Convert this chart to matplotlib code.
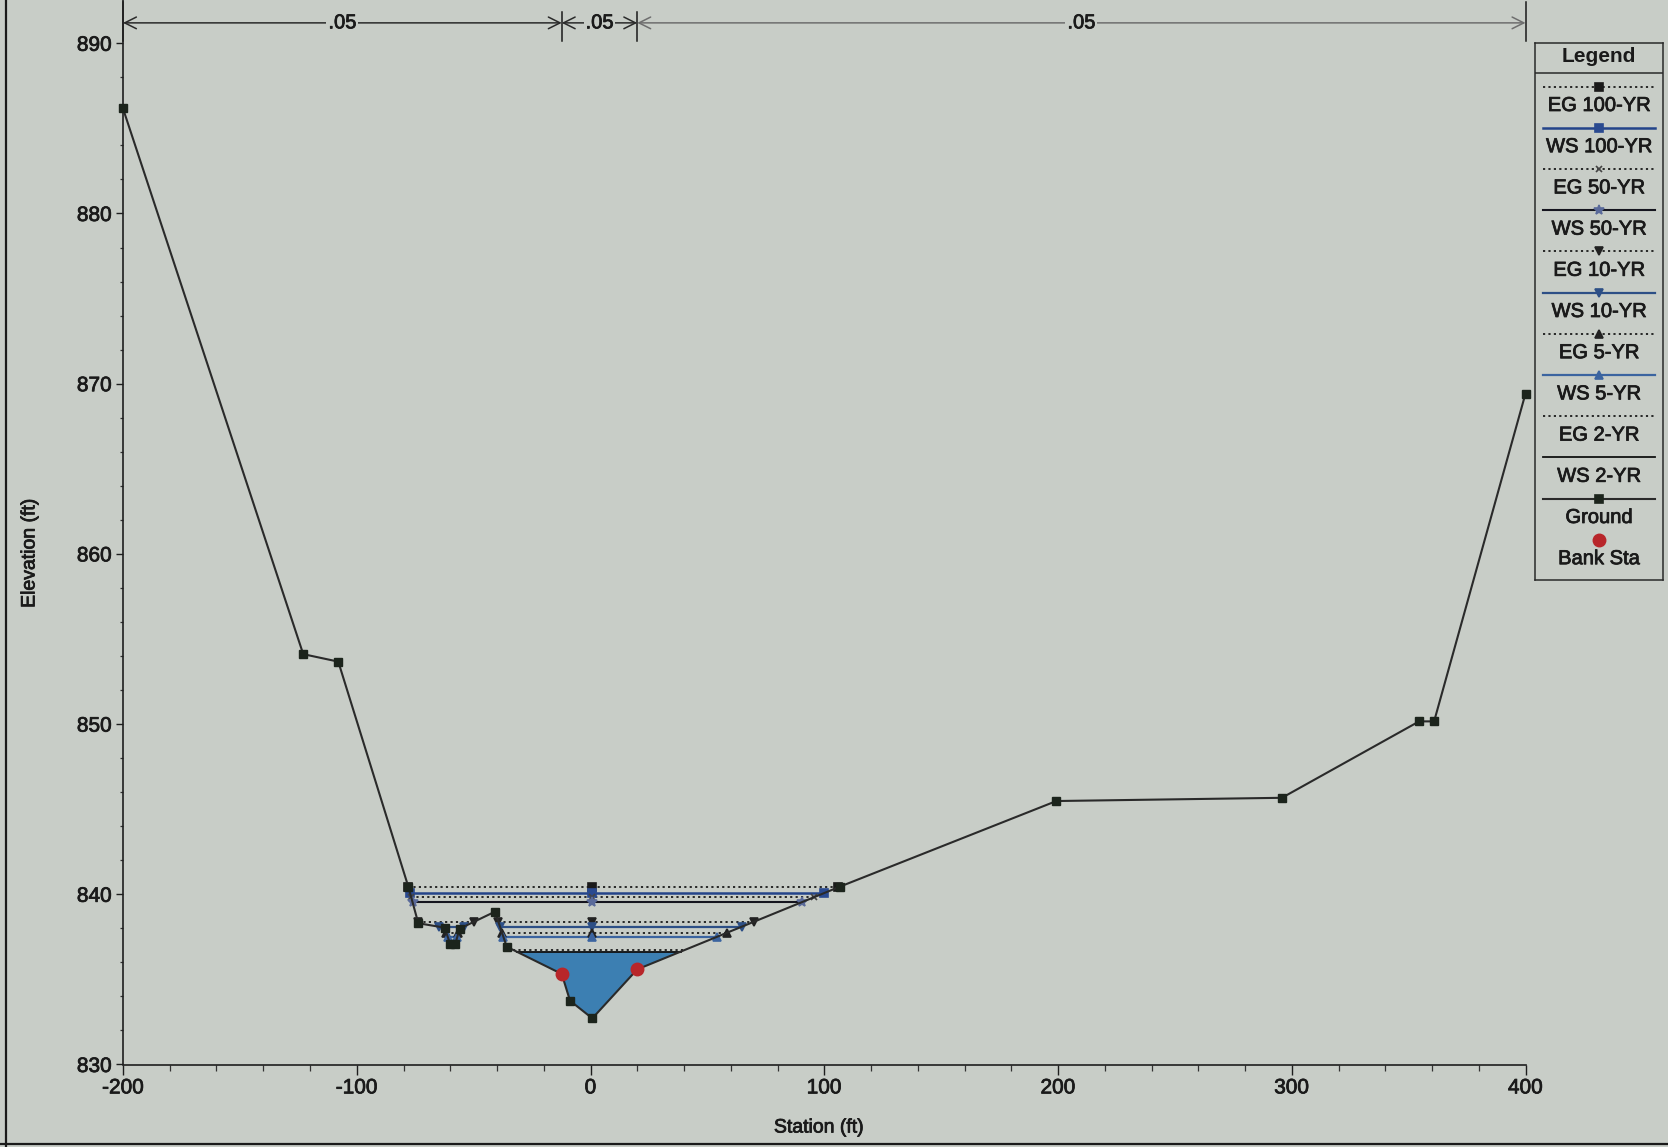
import numpy as np
import matplotlib
matplotlib.use("Agg")
import matplotlib.pyplot as plt
import matplotlib.patheffects as pe
from matplotlib.lines import Line2D
from matplotlib.patches import Polygon

plt.rcParams['font.family'] = ['Liberation Sans', 'DejaVu Sans']
plt.rcParams['axes.unicode_minus'] = False

# ---- cross-section geometry ----
ground_sta = [-200.0, -122.9, -107.9, -77.95, -73.67, -62.4, -60.1, -57.8, -56.0,
              -40.85, -35.85, -12.3, -8.77, 0.77, 20.0, 106.7, 199.3, 295.8,
              354.5, 360.9, 400.0]
ground_elev = [886.17, 854.11, 853.67, 840.45, 838.30, 838.04, 837.10, 837.10, 837.98,
               838.98, 836.92, 835.32, 833.75, 832.71, 835.59, 840.45, 845.48, 845.67,
               850.16, 850.16, 869.42]
bank_sta = [-12.3, 20.0]
bank_elev = [835.32, 835.59]

# Manning's n regions
n_breaks = [-200.0, -12.3, 20.0, 400.0]
n_values = [".05", ".05", ".05"]

# Computed profiles
profile_names = ["EG 100-YR", "WS 100-YR", "EG 50-YR", "WS 50-YR", "EG 10-YR",
                 "WS 10-YR", "EG 5-YR", "WS 5-YR", "EG 2-YR", "WS 2-YR"]
profile_elev = [840.41, 840.06, 839.82, 839.53, 838.39, 838.10, 837.74, 837.51,
                836.73, 836.63]

BG = '#c8cdc7'
TXT = '#1a1a1a'
DOT = (0, (1.2, 1.8))
styles = {
    "EG 100-YR": dict(color='#1a1a1a', ls=DOT, lw=1.3, marker='s', mc='#1a1a1a', ms=5.5),
    "WS 100-YR": dict(color='#24448a', ls='-', lw=1.8, marker='s', mc='#2a4a90', ms=5.5),
    "EG 50-YR": dict(color='#1a1a1a', ls=DOT, lw=1.3, marker='x', mc='#444444', ms=5),
    "WS 50-YR": dict(color='#15151f', ls='-', lw=1.5, marker='*', mc='#5a6a9a', ms=7),
    "EG 10-YR": dict(color='#1a1a1a', ls=DOT, lw=1.3, marker='v', mc='#222222', ms=5.5),
    "WS 10-YR": dict(color='#2d4f86', ls='-', lw=1.6, marker='v', mc='#2d4f86', ms=5.5),
    "EG 5-YR": dict(color='#1a1a1a', ls=DOT, lw=1.3, marker='^', mc='#222222', ms=5.5),
    "WS 5-YR": dict(color='#3b64a0', ls='-', lw=1.6, marker='^', mc='#3b64a0', ms=5.5),
    "EG 2-YR": dict(color='#1a1a1a', ls=DOT, lw=1.3, marker=None, mc=None, ms=0),
    "WS 2-YR": dict(color='#111111', ls='-', lw=1.3, marker=None, mc=None, ms=0),
}
ground_style = dict(color='#2a2a2a', ls='-', lw=1.5, marker='s', mc='#1c241c', ms=6)
bank_style = dict(marker='o', mc='#b8262a', ms=9)
FILL = '#3c7fb2'

# slightly heavier strokes for all lettering
HEAVY = [pe.withStroke(linewidth=0.55, foreground=TXT)]


def wet_intervals(z, xs, ys):
    """Return (start, end) stations where the ground lies below elevation z."""
    out = []
    start = None
    for i in range(len(xs) - 1):
        x0, y0, x1, y1 = xs[i], ys[i], xs[i + 1], ys[i + 1]
        if y0 >= z > y1:
            start = x0 + (y0 - z) / (y0 - y1) * (x1 - x0)
        elif y0 < z <= y1 and start is not None:
            end = x0 + (z - y0) / (y1 - y0) * (x1 - x0)
            out.append((start, end))
            start = None
    return out


W, H = 1668, 1147
fig = plt.figure(figsize=(W / 100, H / 100), dpi=100, facecolor=BG)

x_left, x_right = 123, 1525.5
y_axis = 1064.5
ymax = 830 + y_axis / 17.02
ax = fig.add_axes([x_left / W, 1 - y_axis / H, (x_right - x_left) / W, y_axis / H])
ax.set_facecolor(BG)
ax.set_xlim(-200, 400)
ax.set_ylim(830, ymax)

thalweg = ground_sta[int(np.argmin(ground_elev))]

# water area of the lowest profile
z2 = profile_elev[profile_names.index("WS 2-YR")]
for a, b in wet_intervals(z2, ground_sta, ground_elev):
    pts = [(a, z2)] + [(x, y) for x, y in zip(ground_sta, ground_elev) if a < x < b] + [(b, z2)]
    ax.add_patch(Polygon(pts, closed=True, facecolor=FILL, edgecolor='none', zorder=1))

# EG / WS lines
for name, z in zip(profile_names, profile_elev):
    st = styles[name]
    for a, b in wet_intervals(z, ground_sta, ground_elev):
        ax.plot([a, b], [z, z], color=st['color'], ls=st['ls'], lw=st['lw'], zorder=3)
        if st['marker']:
            mx = [a, b] + ([thalweg] if a < thalweg < b else [])
            ax.plot(mx, [z] * len(mx), ls='none', marker=st['marker'], ms=st['ms'],
                    mfc=st['mc'], mec=st['mc'], mew=1.2, zorder=4)

# ground
ax.plot(ground_sta, ground_elev, color=ground_style['color'], lw=ground_style['lw'],
        marker='s', ms=ground_style['ms'], mfc=ground_style['mc'], mec=ground_style['mc'],
        zorder=5, clip_on=False)
ax.plot(bank_sta, bank_elev, ls='none', marker='o', ms=bank_style['ms'],
        mfc=bank_style['mc'], mec=bank_style['mc'], zorder=6)

# Manning's n annotation
y_n = 891.2
seg_colors = ['#2a2a2a', '#2a2a2a', '#6e6e6e']
for i, nv in enumerate(n_values):
    ax.annotate('', xy=(n_breaks[i], y_n), xytext=(n_breaks[i + 1], y_n),
                arrowprops=dict(arrowstyle='<->, head_length=0.7, head_width=0.35',
                                color=seg_colors[i], lw=1.1, shrinkA=0, shrinkB=0,
                                mutation_scale=12),
                annotation_clip=False)
    ax.text((n_breaks[i] + n_breaks[i + 1]) / 2, y_n, nv, ha='center', va='center',
            fontsize=14.5, color=TXT, zorder=7, path_effects=HEAVY,
            bbox=dict(facecolor=BG, edgecolor='none', pad=1.5))
for i, xb in enumerate(n_breaks):
    top = 892.4 if i in (0, len(n_breaks) - 1) else 891.85
    ax.plot([xb, xb], [890.15, top], color='#1a1a1a', lw=1.1, clip_on=False)

# axes styling
for s in ('top', 'right'):
    ax.spines[s].set_visible(False)
for s in ('left', 'bottom'):
    ax.spines[s].set_color('#1e1e1e')
    ax.spines[s].set_linewidth(1.2)
ax.set_xticks(np.arange(-200, 401, 100))
ax.set_xticks(np.arange(-200, 401, 20), minor=True)
ax.set_yticks(np.arange(830, 891, 10))
ax.set_yticks(np.arange(830, 891, 2), minor=True)
ax.tick_params(axis='both', which='major', labelsize=15, labelcolor=TXT,
               color='#1e1e1e', width=1.0)
ax.tick_params(axis='x', which='major', length=7, pad=3)
ax.tick_params(axis='x', which='minor', length=4, width=0.9, color='#333333')
ax.tick_params(axis='y', which='major', length=5, pad=3)
ax.tick_params(axis='y', which='minor', length=2.5, width=0.9, color='#333333')
for lab in ax.get_xticklabels() + ax.get_yticklabels():
    lab.set_path_effects(HEAVY)

fig.text(819 / W, 1 - 1128 / H, 'Station (ft)', ha='center', va='center',
         fontsize=14, color=TXT, path_effects=HEAVY)
fig.text(30 / W, 1 - 553 / H, 'Elevation (ft)', ha='center', va='center',
         rotation=90, fontsize=14, color=TXT, path_effects=HEAVY)

# legend panel
lx0, ly0, lx1, ly1 = 1535, 43.3, 1663, 580
lax = fig.add_axes([lx0 / W, 1 - ly1 / H, (lx1 - lx0) / W, (ly1 - ly0) / H])
lax.set_facecolor(BG)
lw_, lh_ = lx1 - lx0, ly1 - ly0
lax.set_xlim(0, lw_)
lax.set_ylim(lh_, 0)
lax.set_xticks([])
lax.set_yticks([])
for s in lax.spines.values():
    s.set_color('#2a2a2a')
    s.set_linewidth(1.1)
lax.text(lw_ / 2, 13.6, 'Legend', ha='center', va='center', fontsize=15,
         fontweight='bold', color=TXT)
lax.axhline(30, color='#2a2a2a', lw=1.1)

entries = profile_names + ['Ground', 'Bank Sta']
for i, name in enumerate(entries):
    yl = 43.4 + 41.2 * i
    if name == 'Bank Sta':
        lax.plot([lw_ / 2], [yl], ls='none', marker='o', ms=bank_style['ms'],
                 mfc=bank_style['mc'], mec=bank_style['mc'])
    else:
        st = ground_style if name == 'Ground' else styles[name]
        lax.plot([8, 120], [yl, yl], color=st['color'], ls=st['ls'], lw=st['lw'])
        if st['marker']:
            lax.plot([64], [yl], ls='none', marker=st['marker'], ms=st['ms'],
                     mfc=st['mc'], mec=st['mc'], mew=1.2)
    lax.text(lw_ / 2, yl + 18.8, name, ha='center', va='center', fontsize=14.5,
             color=TXT, path_effects=HEAVY)

# page frame
fig.add_artist(Line2D([6 / W, 6 / W], [0, 1], transform=fig.transFigure,
                      color='#1a1a1a', lw=1.6))
fig.add_artist(Line2D([0, 1], [1 - 1144 / H, 1 - 1144 / H], transform=fig.transFigure,
                      color='#1a1a1a', lw=1.6))

fig.savefig('out.png', dpi=100, facecolor=BG)
